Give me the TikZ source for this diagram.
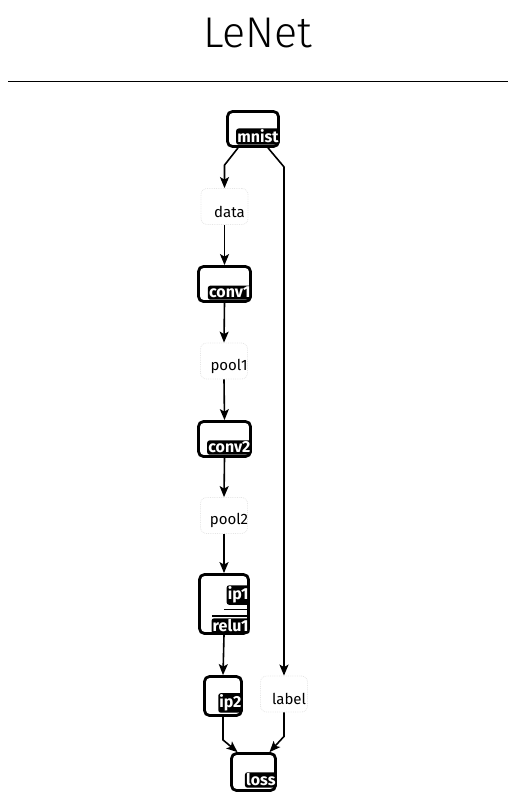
\documentclass[tikz,border=0pt]{standalone}
\usepackage{fontspec}
\setmainfont{Fira Sans}
\newfontfamily\titlefont{Fira Sans Light}
\usetikzlibrary{positioning,arrows.meta,calc}

\begin{document}
\begin{tikzpicture}[x=1pt, y=-1pt, font=\fontsize{15}{17}\selectfont, >={Stealth[length=11pt,width=9pt,inset=2.5pt]},
  layer/.style={draw, line width=2.8pt, rounded corners=5pt, inner sep=0pt},
  blob/.style={draw=black!10, densely dotted, line width=0.8pt, rounded corners=6pt, minimum width=47pt, minimum height=36pt, inner sep=0pt},
  tag/.style={fill=black, text=white, font=\fontsize{16}{18}\selectfont\bfseries, inner xsep=1.2pt, inner ysep=1.5pt, rounded corners=2.5pt, anchor=south east},
  edge/.style={->, line width=1.6pt}]
\useasboundingbox (0,0) rectangle (514,798);
% title and rule
\node[font=\titlefont\fontsize{43}{50}\selectfont] (title) at (258,33) {LeNet};
\draw[line width=1pt] (8,81) -- (508,81);
% layers (boxes, tag in the lower right corner)
\node[layer, minimum width=51pt, minimum height=35pt] (mnist) at (253,129) {};
\node[layer, minimum width=52pt, minimum height=35pt] (conv1) at (224.5,284) {};
\node[layer, minimum width=52pt, minimum height=35pt] (conv2) at (224.5,439) {};
\node[layer, minimum width=49pt, minimum height=59pt] (ip1) at (224,604) {};
\node[layer, minimum width=37pt, minimum height=39pt] (ip2) at (223,696) {};
\node[layer, minimum width=44pt, minimum height=37pt] (loss) at (253.5,772) {};
\node[tag] at ([yshift=3pt]mnist.south east) {mnist};
\node[tag] at ([yshift=3pt]conv1.south east) {conv1};
\node[tag] at ([yshift=3pt]conv2.south east) {conv2};
\node[tag] at ([yshift=-1pt]ip1.east) {ip1};
\draw[line width=1pt] ($(ip1.east)+(-26,5)$) -- ($(ip1.east)+(0,5)$);
\draw[line width=1.6pt] ($(ip1.east)+(-38,12)$) -- ($(ip1.east)+(0,12)$);
\node[tag] at ([yshift=1pt]ip1.south east) {relu1};
\node[tag] at ([yshift=4pt]ip2.south east) {ip2};
\node[tag] at ([yshift=4pt]loss.south east) {loss};
% blobs
\node[blob] (data) at (224.5,206.5) {};
\node[blob] (pool1) at (224,361) {};
\node[blob] (pool2) at (224,515.5) {};
\node[blob] (label) at (284,694) {};
\foreach \b in {data,pool1,pool2,label}
  \node at ($(\b.center)+(5,5)$) {\b};
% connectors
\draw[edge] ([xshift=-15pt]mnist.south) -- ([yshift=23pt]data.north) -- (data.north);
\draw[edge] ([xshift=15pt]mnist.south) -- ($(label.north |- mnist.south)+(0,19)$) -- (label.north);
\foreach \a/\b in {data/conv1,conv1/pool1,pool1/conv2,conv2/pool2,pool2/ip1,ip1/ip2}
  \draw[edge] (\a.south) -- (\b.north);
\draw[edge] (ip2.south) -- ([yshift=-23pt]ip2.south) -- ([xshift=-16pt]loss.north);
\draw[edge] (label.south) -- ([yshift=-24pt]label.south) -- ([xshift=16pt]loss.north);
\end{tikzpicture}
\end{document}
